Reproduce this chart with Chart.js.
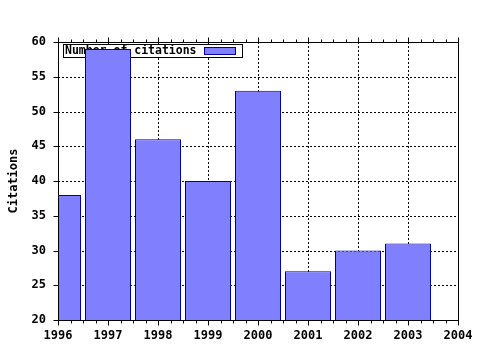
<!DOCTYPE html>
<html>
<head>
<meta charset="utf-8">
<script src="https://cdn.jsdelivr.net/npm/chart.js@4"></script>
<style>
html,body{margin:0;padding:0;background:#fff;}
#wrap{width:480px;height:350px;position:relative;}
</style>
</head>
<body>
<div id="wrap"><canvas id="c"></canvas></div>
<script>
const years = [1996, 1997, 1998, 1999, 2000, 2001, 2002, 2003];
const citations = [38, 59, 46, 40, 53, 27, 30, 31];
const seriesLabel = 'Number of citations';
const axisTitle = 'Citations';
const xRange = [1996, 2004];
const yRange = [20, 60];

const FONT = '"DejaVu Sans Mono", "Liberation Mono", monospace';

function drawUnderlay(chart) {
  const ctx = chart.ctx, a = chart.chartArea;
  const xs = chart.scales.x, ys = chart.scales.y;
  ctx.save();
  ctx.strokeStyle = '#000';
  ctx.lineWidth = 1;
  ctx.setLineDash([2, 2]);
  for (let v = xRange[0] + 1; v < xRange[1]; v++) {
    const px = Math.round(xs.getPixelForValue(v)) + 0.5;
    ctx.beginPath(); ctx.moveTo(px, a.bottom); ctx.lineTo(px, a.top); ctx.stroke();
  }
  for (let v = yRange[0] + 5; v < yRange[1]; v += 5) {
    const py = Math.round(ys.getPixelForValue(v)) + 0.5;
    ctx.beginPath(); ctx.moveTo(a.left, py); ctx.lineTo(a.right, py); ctx.stroke();
  }
  ctx.setLineDash([]);
  const ds = chart.data.datasets[0];
  const lx = a.left + 5, ly = a.top + 2, lw = 179, lh = 13;
  ctx.fillStyle = '#fff';
  ctx.fillRect(lx, ly, lw, lh);
  ctx.strokeRect(lx + 0.5, ly + 0.5, lw, lh);
  ctx.fillStyle = '#000';
  ctx.font = 'bold 11.5px ' + FONT;
  ctx.textBaseline = 'middle';
  ctx.textAlign = 'left';
  ctx.fillText(ds.label, lx + 2, ly + lh / 2 + 1);
  ctx.fillStyle = ds.backgroundColor;
  ctx.fillRect(lx + 141, ly + 3, 31, 7);
  ctx.strokeStyle = ds.borderColor;
  ctx.strokeRect(lx + 141.5, ly + 3.5, 31, 7);
  ctx.restore();
}

const framePlugin = {
  id: 'frame',
  beforeDatasetsDraw(chart) { drawUnderlay(chart); },
  afterDatasetsDraw(chart) {
    const ctx = chart.ctx, a = chart.chartArea;
    const xs = chart.scales.x, ys = chart.scales.y;
    ctx.save();
    ctx.strokeStyle = '#000';
    ctx.lineWidth = 1;
    const L = Math.round(a.left) + 0.5, R = Math.round(a.right) + 0.5;
    const T = Math.round(a.top) + 0.5, B = Math.round(a.bottom) + 0.5;
    ctx.strokeRect(L, T, R - L, B - T);
    ctx.beginPath();
    for (let v = xRange[0]; v <= xRange[1] + 1e-9; v += 0.25) {
      const px = Math.round(xs.getPixelForValue(v)) + 0.5;
      const major = Math.abs(v - Math.round(v)) < 1e-9;
      const len = major ? 5 : 3;
      ctx.moveTo(px, B); ctx.lineTo(px, B + len);
      ctx.moveTo(px, T); ctx.lineTo(px, T - len);
    }
    for (let v = yRange[0]; v <= yRange[1]; v += 5) {
      const py = Math.round(ys.getPixelForValue(v)) + 0.5;
      ctx.moveTo(L, py); ctx.lineTo(L - 5, py);
    }
    ctx.stroke();
    ctx.restore();
  }
};

new Chart(document.getElementById('c'), {
  type: 'bar',
  data: {
    datasets: [{
      label: seriesLabel,
      data: years.map((y, i) => ({ x: y, y: citations[i] })),
      backgroundColor: '#8080ff',
      borderColor: '#0000a0',
      borderWidth: 1,
      borderSkipped: 'start',
      inflateAmount: 0,
      barPercentage: 0.92,
      categoryPercentage: 1,
      clip: 0
    }]
  },
  options: {
    responsive: true,
    maintainAspectRatio: false,
    animation: false,
    events: [],
    layout: { padding: { left: 0, top: 42, right: 22, bottom: 0 } },
    plugins: { legend: { display: false }, tooltip: { enabled: false } },
    scales: {
      x: {
        type: 'linear', min: xRange[0], max: xRange[1], offset: false,
        grid: { display: false, drawTicks: false }, border: { display: false },
        ticks: { stepSize: 1, autoSkip: false, maxRotation: 0, padding: 9, color: '#000', font: { family: FONT, weight: 'bold', size: 12 }, callback: v => String(v) },
        afterFit: s => { s.height = 30; s.paddingLeft = 0; s.paddingRight = 0; }
      },
      y: {
        min: yRange[0], max: yRange[1],
        grid: { display: false, drawTicks: false }, border: { display: false },
        ticks: { stepSize: 5, padding: 12, color: '#000', font: { family: FONT, weight: 'bold', size: 12 } },
        title: { display: true, text: axisTitle, color: '#000', font: { family: FONT, weight: 'bold', size: 12 }, padding: { top: 7, bottom: 0 } },
        afterFit: s => { s.width = 58; s.paddingTop = 0; s.paddingBottom = 0; }
      }
    }
  },
  plugins: [framePlugin]
});
</script>
</body>
</html>
